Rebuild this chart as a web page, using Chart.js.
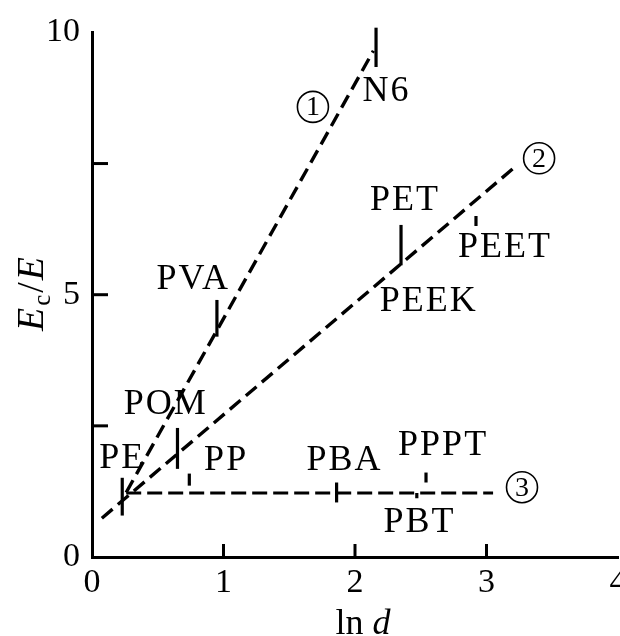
<!DOCTYPE html>
<html>
<head>
<meta charset="utf-8">
<script src="https://cdn.jsdelivr.net/npm/chart.js@4/dist/chart.umd.min.js"></script>
<style>
    html, body { margin: 0; padding: 0; background: #fff; overflow: hidden; }
    #wrap { width: 640px; height: 636px; position: relative; }
</style>
</head>
<body>
<div id="wrap"><canvas id="chart"></canvas></div>
<script>
    // fitted lines (ln d, Ec/E)
    const line1X = [0.26, 2.14];
    const line1Y = [1.23, 9.65];
    const line2X = [0.075, 3.2];
    const line2Y = [0.74, 7.4];
    const line3X = [0.26, 3.05];
    const line3Y = [1.22, 1.22];

    // short vertical marks for each polymer
    const markNames = ['PE', 'POM', 'PP', 'PVA', 'PBA', 'PET', 'PBT', 'PPPT', 'PEET', 'N6'];
    const markX = [0.23, 0.65, 0.74, 0.95, 1.86, 2.35, 2.47, 2.54, 2.92, 2.16];
    const markLow = [0.79, 1.68, 1.36, 4.2, 1.04, 5.56, 1.12, 1.42, 6.31, 9.34];
    const markHigh = [1.51, 2.46, 1.59, 4.9, 1.42, 6.33, 1.22, 1.61, 6.5, 10.09];

    // text labels and where they sit
    const labelText = ['PE', 'POM', 'PP', 'PVA', 'PBA', 'PEEK', 'PET', 'PBT', 'PPPT', 'PEET', 'N6'];
    const labelX = [0.23, 0.56, 1.02, 0.77, 1.92, 2.56, 2.38, 2.49, 2.67, 3.14, 2.24];
    const labelY = [1.87, 2.91, 1.83, 5.29, 1.83, 4.86, 6.79, 0.66, 2.12, 5.9, 8.87];

    // circled line numbers
    const circleText = ['1', '2', '3'];
    const circleX = [1.68, 3.4, 3.27];
    const circleY = [8.58, 7.6, 1.33];

    const xTicks = [0, 1, 2, 3, 4];
    const yTicks = [0, 2.5, 5, 7.5, 10];
    const yLabelled = [0, 5, 10];

    const FONT = '"Liberation Serif", "DejaVu Serif", serif';

    function pts(xs, ys) {
        return xs.map((v, i) => ({ x: v, y: ys[i] }));
    }

    const dashed = {
        borderColor: '#000',
        borderWidth: 3.4,
        borderDash: [14, 7],
        pointRadius: 0,
        showLine: true,
        fill: false,
        clip: false
    };

    const datasets = [
        Object.assign({ label: '1', data: pts(line1X, line1Y) }, dashed),
        Object.assign({ label: '2', data: pts(line2X, line2Y) }, dashed),
        Object.assign({ label: '3', data: pts(line3X, line3Y) }, dashed, { borderDash: [15, 6], borderWidth: 3 })
    ];
    markNames.forEach((name, i) => {
        datasets.push({
            label: name,
            data: [{ x: markX[i], y: markLow[i] }, { x: markX[i], y: markHigh[i] }],
            borderColor: '#000',
            borderWidth: 3.2,
            pointRadius: 0,
            showLine: true,
            clip: false
        });
    });

    const annotations = {
        id: 'annotations',
        afterDraw(chart) {
            const { ctx, scales: { x, y } } = chart;
            ctx.save();
            ctx.strokeStyle = '#000';
            ctx.fillStyle = '#000';

            // tick marks point into the plot
            ctx.lineWidth = 3;
            yTicks.slice(1, -1).forEach(v => {
                const py = y.getPixelForValue(v);
                ctx.beginPath();
                ctx.moveTo(x.left, py);
                ctx.lineTo(x.left + 16, py);
                ctx.stroke();
            });
            xTicks.slice(1, -1).forEach(v => {
                const px = x.getPixelForValue(v);
                ctx.beginPath();
                ctx.moveTo(px, y.bottom);
                ctx.lineTo(px, y.bottom - 13);
                ctx.stroke();
            });

            // polymer names
            ctx.font = '36px ' + FONT;
            ctx.letterSpacing = '2px';
            ctx.textAlign = 'center';
            ctx.textBaseline = 'middle';
            labelText.forEach((t, i) => {
                ctx.fillText(t, x.getPixelForValue(labelX[i]), y.getPixelForValue(labelY[i]));
            });
            ctx.letterSpacing = '0px';

            // circled numbers
            circleText.forEach((t, i) => {
                const cx = x.getPixelForValue(circleX[i]);
                const cy = y.getPixelForValue(circleY[i]);
                ctx.lineWidth = 1.6;
                ctx.beginPath();
                ctx.arc(cx, cy, 15.5, 0, Math.PI * 2);
                ctx.stroke();
                ctx.font = '28px ' + FONT;
                ctx.fillText(t, cx, cy + 1);
            });

            // x title: ln d
            ctx.textAlign = 'left';
            ctx.textBaseline = 'alphabetic';
            ctx.font = '36px ' + FONT;
            const lnW = ctx.measureText('ln ').width;
            ctx.font = 'italic 36px ' + FONT;
            const dW = ctx.measureText('d').width;
            let sx = 363 - (lnW + dW) / 2;
            ctx.font = '36px ' + FONT;
            ctx.fillText('ln ', sx, 634);
            ctx.font = 'italic 36px ' + FONT;
            ctx.fillText('d', sx + lnW, 634);

            // y title: Ec/E, rotated
            ctx.save();
            ctx.translate(43, 293);
            ctx.rotate(-Math.PI / 2);
            const parts = [
                { t: 'E', f: 'italic 38px ', dy: 0 },
                { t: 'c', f: '25px ', dy: 7 },
                { t: '/', f: '38px ', dy: 0 },
                { t: 'E', f: 'italic 38px ', dy: 0 }
            ];
            ctx.letterSpacing = '1px';
            let total = 0;
            parts.forEach(p => { ctx.font = p.f + FONT; p.w = ctx.measureText(p.t).width + 1; total += p.w; });
            let cur = -total / 2;
            parts.forEach(p => {
                ctx.font = p.f + FONT;
                ctx.fillText(p.t, cur, p.dy);
                cur += p.w;
            });
            ctx.restore();

            ctx.restore();
        }
    };

    new Chart(document.getElementById('chart'), {
        type: 'scatter',
        data: { datasets },
        options: {
            responsive: true,
            maintainAspectRatio: false,
            animation: false,
            layout: { padding: { top: 28, right: 22, bottom: 0, left: 0 } },
            plugins: { legend: { display: false }, tooltip: { enabled: false } },
            scales: {
                x: {
                    type: 'linear',
                    min: 0,
                    max: 4,
                    afterBuildTicks: s => { s.ticks = xTicks.map(v => ({ value: v })); },
                    afterFit: s => { s.height = 79; },
                    grid: { display: false, drawTicks: false },
                    border: { display: true, color: '#000', width: 3 },
                    ticks: {
                        color: '#000',
                        padding: 6,
                        maxRotation: 0,
                        font: { family: FONT, size: 34 },
                        callback: v => String(v)
                    }
                },
                y: {
                    type: 'linear',
                    min: 0,
                    max: 10,
                    afterBuildTicks: s => { s.ticks = yTicks.map(v => ({ value: v })); },
                    afterFit: s => { s.width = 92; },
                    grid: { display: false, drawTicks: false },
                    border: { display: true, color: '#000', width: 3 },
                    ticks: {
                        color: '#000',
                        padding: 12,
                        font: { family: FONT, size: 34 },
                        callback: v => yLabelled.includes(v) ? String(v) : ''
                    }
                }
            }
        },
        plugins: [annotations]
    });
</script>
</body>
</html>
